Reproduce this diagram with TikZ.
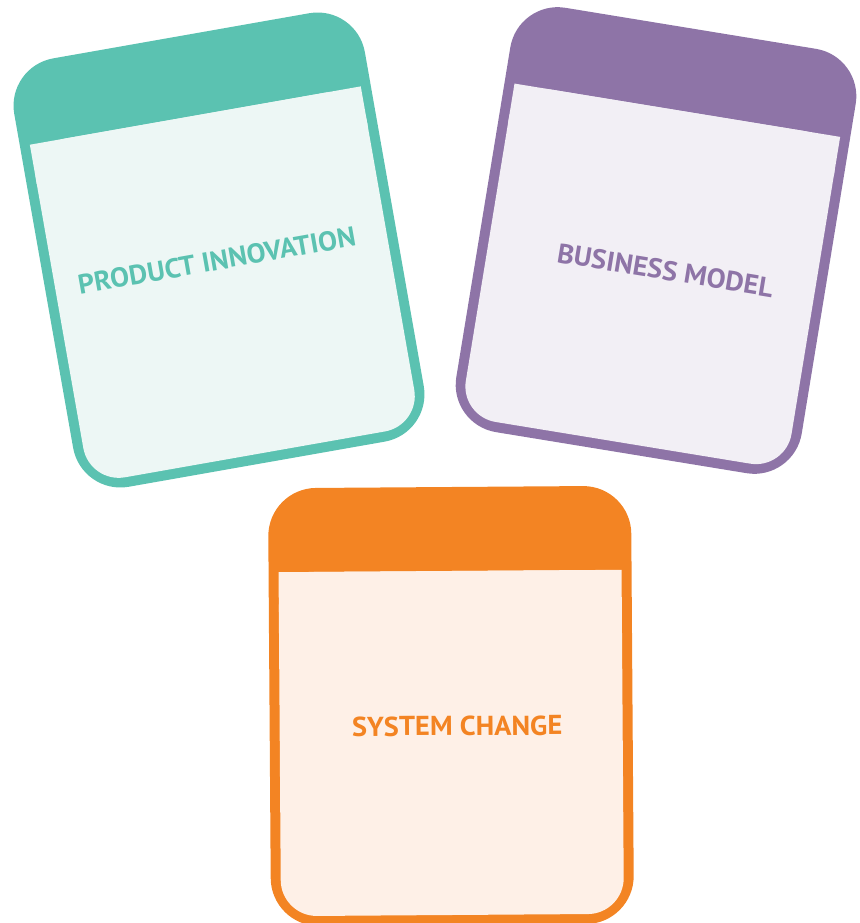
\documentclass[tikz,border=0pt]{standalone}
\usepackage{fontspec}
\setmainfont{PT Sans}
\definecolor{tealmain}{HTML}{5BC2B1}
\definecolor{teallight}{HTML}{EDF7F5}
\definecolor{purplemain}{HTML}{8E74A7}
\definecolor{purplelight}{HTML}{F2EFF5}
\definecolor{orangemain}{HTML}{F38423}
\definecolor{orangelight}{HTML}{FEF0E7}
% one card: #1 main colour, #2 light colour, #3 width, #4 height, #5 band depth
\newcommand{\cardshape}[5]{%
  \fill[#1, rounded corners=36pt] (-#3/2,-#4/2) rectangle (#3/2,#4/2);
  \fill[#2, rounded corners=27pt] (-#3/2+10,-#4/2+#5) rectangle (#3/2-10,#4/2-10);
  \fill[#2] (-#3/2+10,-#4/2+#5) rectangle (#3/2-10,-#4/2+#5+40);
}
\tikzset{
  cardlabel/.style={font=\bfseries\fontsize{20.5}{24}\selectfont, inner sep=0pt,
    xscale=1.04, transform shape}
}
\begin{document}
\begin{tikzpicture}[x=0.75pt, y=-0.75pt]
\useasboundingbox (0,0) rectangle (859,923);
% product innovation card
\begin{scope}[shift={(219,250)}, rotate=10]
  \cardshape{tealmain}{teallight}{356}{435}{81}
  \node[cardlabel, text=tealmain] (pi) at (-4,10) {PRODUCT INNOVATION};
\end{scope}
% business model card
\begin{scope}[shift={(656,240.5)}, rotate=-9.3]
  \cardshape{purplemain}{purplelight}{350}{430}{83}
  \node[cardlabel, text=purplemain] (bm) at (14,28) {BUSINESS MODEL};
\end{scope}
% system change card
\begin{scope}[shift={(451,706)}, rotate=0.4]
  \cardshape{orangemain}{orangelight}{363}{438}{84}
  \node[cardlabel, text=orangemain] (sc) at (6,20) {SYSTEM CHANGE};
\end{scope}
\end{tikzpicture}
\end{document}
